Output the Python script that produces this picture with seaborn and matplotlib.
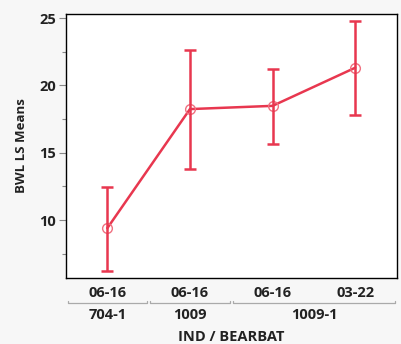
import matplotlib
matplotlib.use("Agg")
import matplotlib.pyplot as plt
import seaborn as sns
import pandas as pd
import numpy as np

bearbat = ["06-16", "06-16", "06-16", "03-22"]
ind_groups = ["704-1", "1009", "1009-1"]
ind_span = [(0, 0), (1, 1), (2, 3)]
means = [9.4, 18.24, 18.48, 21.31]
upper = [12.49, 22.62, 21.21, 24.78]
lower = [6.2, 13.8, 15.68, 17.79]

sns.set_theme(style="white")
plt.rcParams['font.family'] = ['Open Sans', 'DejaVu Sans']

color = "#e8374f"
fs = 10.5
fig = plt.figure(figsize=(4.01, 3.44), dpi=100)
fig.patch.set_facecolor("#f7f7f7")
ax = fig.add_axes([66/401, 1-278/344, (396.5-66)/401, (278-14)/344])
ax.set_facecolor("white")

pos = np.arange(len(means))
df = pd.DataFrame({"pos": pos, "mean": means})
sns.lineplot(data=df, x="pos", y="mean", ax=ax, color=color, lw=1.8,
             marker="o", markersize=7, markerfacecolor="none",
             markeredgecolor="#f07080", markeredgewidth=1.0)
yerr = np.array([np.array(means) - np.array(lower), np.array(upper) - np.array(means)])
ax.errorbar(pos, means, yerr=yerr, fmt="none", ecolor=color, elinewidth=1.8,
            capsize=4.5, capthick=1.8)

ax.set_xlim(-0.5, 3.5)
ax.set_ylim(5.7, 25.3)
ax.set_yticks([10, 15, 20, 25])
ax.set_yticks([7.5, 12.5, 17.5, 22.5], minor=True)
ax.set_xticks(pos)
ax.set_xticklabels(bearbat)
for s in ax.spines.values():
    s.set_color("black")
    s.set_linewidth(1.0)
ax.tick_params(axis="y", which="major", left=True, length=5, width=0.8, color="#888888",
               labelsize=fs, labelcolor="#222222", pad=2)
ax.tick_params(axis="y", which="minor", left=True, length=3, width=0.8, color="#888888")
ax.tick_params(axis="x", bottom=False, labelsize=fs, labelcolor="#222222", pad=0)
for lab in ax.get_xticklabels() + ax.get_yticklabels():
    lab.set_fontweight("bold")
ax.set_xlabel("")
ax.set_ylabel("BWL LS Means", fontsize=9.5, fontweight="bold", color="#222222", labelpad=8)

# group labels below
trans = ax.get_xaxis_transform()
for name, (a, b) in zip(ind_groups, ind_span):
    x0 = a - 0.48
    x1 = b + 0.48
    yb = -(303 - 278) / 264
    ax.plot([x0, x0, x1, x1], [yb + 0.008, yb, yb, yb + 0.008], transform=trans,
            color="#aaaaaa", lw=0.9, clip_on=False)
    ax.text((a + b) / 2, -(315 - 278) / 264, name, transform=trans, ha="center",
            va="center", fontsize=fs, fontweight="bold", color="#222222")
ax.text(1.5, -(337 - 278) / 264, "IND / BEARBAT", transform=trans, ha="center",
        va="center", fontsize=fs, fontweight="bold", color="#222222")

fig.savefig("out.png", dpi=100, facecolor=fig.get_facecolor())
